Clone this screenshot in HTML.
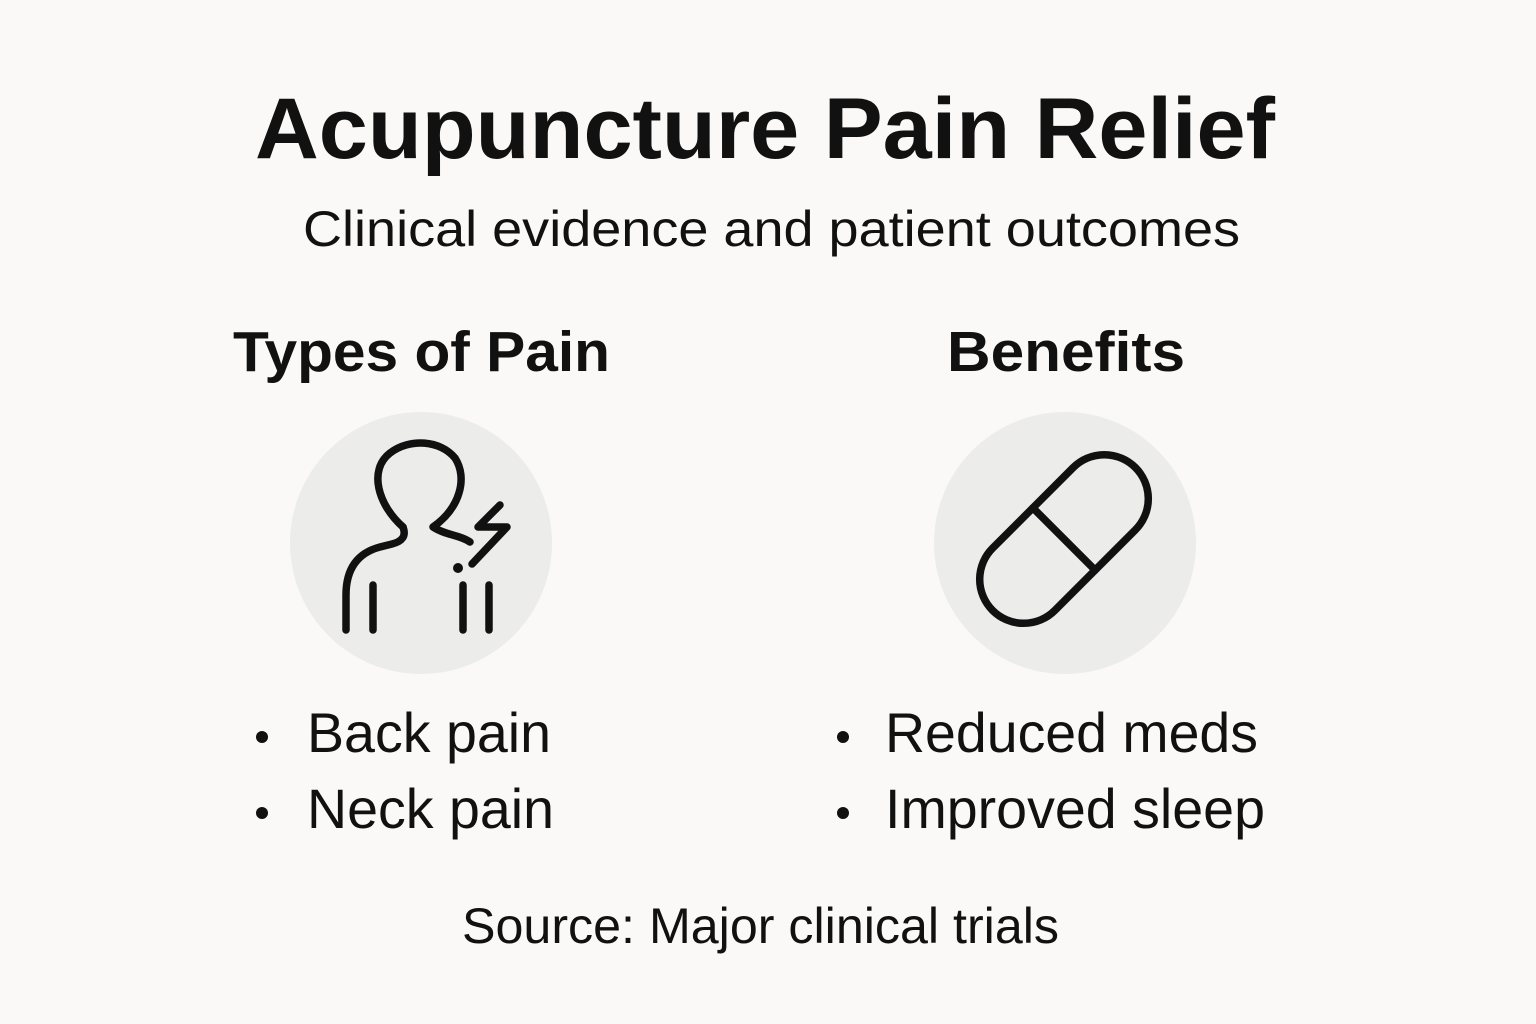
<!DOCTYPE html>
<html><head><style>
html,body{margin:0;padding:0;background:#faf9f7;}
body{width:1536px;height:1024px;position:relative;overflow:hidden;font-family:"Liberation Sans",sans-serif;color:#111;}
</style></head><body>
<svg width="1536" height="1024" viewBox="0 0 1536 1024" style="position:absolute;left:0;top:0">
<rect width="1536" height="1024" fill="#faf9f7"/>
<g font-family="Liberation Sans, sans-serif" fill="#111">
<text x="255" y="158" font-weight="bold" font-size="86" textLength="1020" lengthAdjust="spacingAndGlyphs">Acupuncture Pain Relief</text>
<text x="303" y="246" font-size="50" textLength="937" lengthAdjust="spacingAndGlyphs">Clinical evidence and patient outcomes</text>
<text x="233" y="371" font-weight="bold" font-size="57" textLength="377" lengthAdjust="spacingAndGlyphs">Types of Pain</text>
<text x="947" y="371" font-weight="bold" font-size="57" textLength="238" lengthAdjust="spacingAndGlyphs">Benefits</text>
</g>
<circle cx="421" cy="543" r="131" fill="#ececeb"/>
<circle cx="1065" cy="543" r="131" fill="#ececeb"/>
<g fill="none" stroke="#111" stroke-width="7.5" stroke-linecap="round" stroke-linejoin="round">
<path d="M403 527 C378 505 368 470 390 453 C410 438 440 440 455 458 C468 478 460 508 433 527 C445 535 460 535 470 542"/>
<path d="M403 527 Q408 540 392 544 L380 547 Q346 556 346 595 L346 630"/>
<line x1="373" y1="585" x2="373" y2="630"/>
<line x1="463" y1="585" x2="463" y2="630"/>
<line x1="489" y1="585" x2="489" y2="630"/>
<polyline points="500,505 478,527 507,527 472,564"/>
<g transform="translate(1064,539) rotate(-45)">
<rect x="-101" y="-44" width="202" height="88" rx="44"/>
<line x1="0" y1="-44" x2="0" y2="44"/>
</g>
</g>
<circle cx="458" cy="568" r="5" fill="#111"/>
<g font-family="Liberation Sans, sans-serif" font-size="56" fill="#111">
<circle cx="262" cy="737" r="6"/><text x="307" y="752" textLength="244" lengthAdjust="spacingAndGlyphs">Back pain</text>
<circle cx="262" cy="813" r="6"/><text x="307" y="828" textLength="247" lengthAdjust="spacingAndGlyphs">Neck pain</text>
<circle cx="843" cy="737" r="6"/><text x="885" y="752" textLength="373" lengthAdjust="spacingAndGlyphs">Reduced meds</text>
<circle cx="843" cy="813" r="6"/><text x="885" y="828" textLength="380" lengthAdjust="spacingAndGlyphs">Improved sleep</text>
</g>
<text x="462" y="943" font-family="Liberation Sans, sans-serif" font-size="50" fill="#111" textLength="597" lengthAdjust="spacingAndGlyphs">Source: Major clinical trials</text>
</svg>
</body></html>
